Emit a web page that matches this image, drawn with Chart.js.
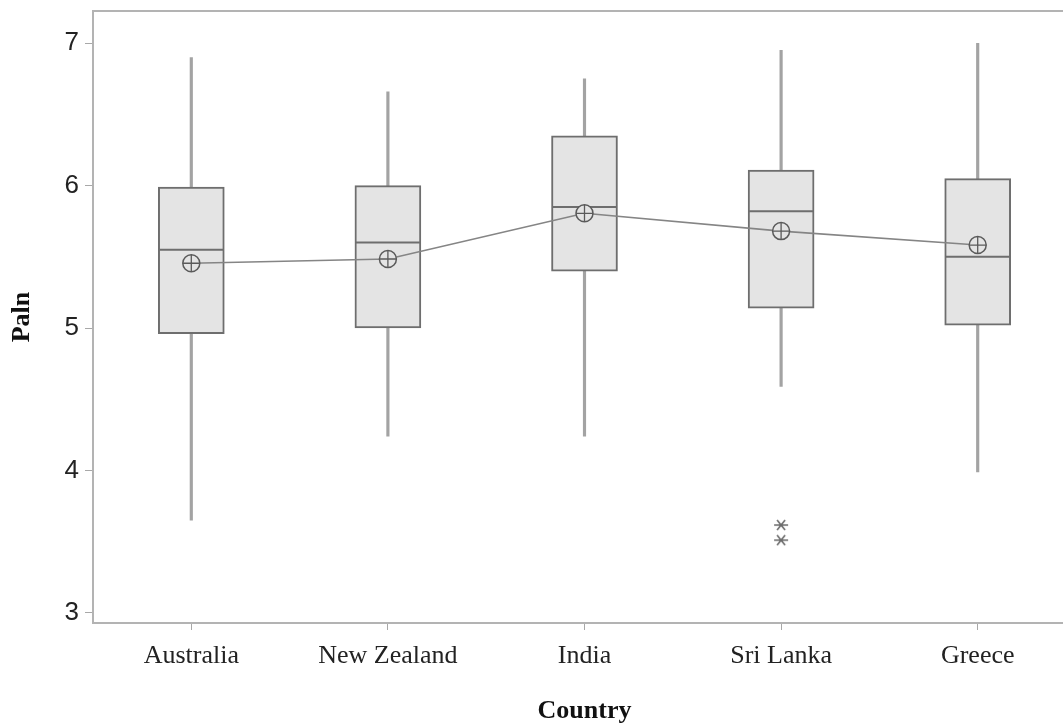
<!DOCTYPE html>
<html>
<head>
<meta charset="utf-8">
<script src="https://cdn.jsdelivr.net/npm/chart.js@4.4.1/dist/chart.umd.min.js"></script>
<style>
  html, body { margin: 0; padding: 0; background: #fff; overflow: hidden; }
  #wrap { width: 1076px; height: 727px; position: relative; }
</style>
</head>
<body>
<div id="wrap"><canvas id="c"></canvas></div>
<script>
// ---- data ----
const categories = ['Australia', 'New Zealand', 'India', 'Sri Lanka', 'Greece'];
const whiskerLow  = [3.65, 4.24, 4.24, 4.59, 3.99];
const whiskerHigh = [6.90, 6.66, 6.75, 6.95, 7.00];
const q1          = [4.96, 5.00, 5.40, 5.14, 5.02];
const q3          = [5.99, 6.00, 6.35, 6.11, 6.05];
const medians     = [5.55, 5.60, 5.85, 5.82, 5.50];
const means       = [5.455, 5.485, 5.806, 5.681, 5.583];
const outlierCats = ['Sri Lanka', 'Sri Lanka'];
const outlierVals = [3.616, 3.51];
const yTicks      = [3, 4, 5, 6, 7];

// asterisk point style
const star = document.createElement('canvas');
star.width = 16; star.height = 12;
(function(){
  const g = star.getContext('2d');
  g.strokeStyle = '#6a6a6a'; g.lineWidth = 1.6;
  g.beginPath();
  g.moveTo(1, 6); g.lineTo(15, 6);
  g.moveTo(4, 1); g.lineTo(12, 11);
  g.moveTo(12, 1); g.lineTo(4, 11);
  g.stroke();
})();

const serif = "'Liberation Serif', 'Times New Roman', serif";
const sans = "'Liberation Sans Narrow', 'Liberation Sans', Arial, sans-serif";

function noPad(s) { s.paddingTop = 0; s.paddingBottom = 0; s.paddingLeft = 0; s.paddingRight = 0; }

new Chart(document.getElementById('c'), {
  type: 'bar',
  data: {
    labels: categories,
    datasets: [
      {
        type: 'bar', label: 'whisker', order: 6, grouped: false,
        data: whiskerLow.map((v, i) => [v, whiskerHigh[i]]),
        backgroundColor: '#a3a3a3', borderWidth: 0, barThickness: 2.5
      },
      {
        type: 'bar', label: 'box', order: 5, grouped: false,
        data: q1.map((v, i) => [v, q3[i]]),
        backgroundColor: '#e4e4e4', borderColor: '#6e6e6e', borderWidth: 2,
        borderSkipped: false, barThickness: 66
      },
      {
        type: 'line', label: 'median', order: 4, showLine: false,
        data: medians,
        pointStyle: 'line', pointRadius: 32, pointBorderColor: '#6e6e6e',
        pointBorderWidth: 2, pointHoverRadius: 32
      },
      {
        type: 'line', label: 'mean', order: 3,
        data: means,
        borderColor: '#858585', borderWidth: 1.6, tension: 0, fill: false,
        pointStyle: 'circle', pointRadius: 8.5, pointBackgroundColor: '#e4e4e4',
        pointBorderColor: '#5a5a5a', pointBorderWidth: 1.5
      },
      {
        type: 'line', label: 'meanCross', order: 2, showLine: false,
        data: means,
        pointStyle: 'cross', pointRadius: 8.5, pointBorderColor: '#5a5a5a',
        pointBorderWidth: 1.3
      },
      {
        type: 'line', label: 'outliers', order: 1, showLine: false,
        data: outlierCats.map((c, i) => ({ x: c, y: outlierVals[i] })),
        pointStyle: star, pointRadius: 7
      }
    ]
  },
  options: {
    responsive: true,
    maintainAspectRatio: false,
    animation: false,
    events: [],
    layout: { autoPadding: false, padding: { top: 11, left: 0, right: 0, bottom: 0 } },
    plugins: { legend: { display: false }, tooltip: { enabled: false } },
    scales: {
      x: {
        type: 'category',
        position: 'bottom',
        offset: true,
        grid: { display: true, drawOnChartArea: false, offset: false, color: '#a8a8a8', tickLength: 7, lineWidth: 1 },
        border: { display: true, color: '#b3b3b3', width: 2 },
        ticks: { color: '#222', font: { family: serif, size: 26 }, padding: 11, maxRotation: 0, autoSkip: false },
        title: { display: true, text: 'Country', color: '#111', font: { family: serif, size: 26, weight: 'bold' }, padding: { top: 0, bottom: 0 } },
        afterFit: s => { s.height = 104; noPad(s); }
      },
      xTop: {
        type: 'category',
        position: 'top',
        offset: true,
        grid: { display: false, drawOnChartArea: false, drawTicks: false },
        border: { display: true, color: '#b3b3b3', width: 2 },
        ticks: { display: false },
        afterFit: s => { s.height = 0; noPad(s); }
      },
      y: {
        type: 'linear',
        min: 2.928, max: 7.227,
        grid: { display: true, drawOnChartArea: false, color: '#a8a8a8', tickLength: 8, lineWidth: 1 },
        border: { display: true, color: '#b3b3b3', width: 2 },
        ticks: { color: '#222', font: { family: sans, size: 26 }, padding: 6 },
        afterBuildTicks: s => { s.ticks = yTicks.map(v => ({ value: v })); },
        title: { display: true, text: 'Paln', color: '#111', font: { family: serif, size: 26, weight: 'bold' }, padding: { top: 7, bottom: 0 } },
        afterFit: s => { s.width = 93; noPad(s); }
      }
    }
  }
});
</script>
</body>
</html>
